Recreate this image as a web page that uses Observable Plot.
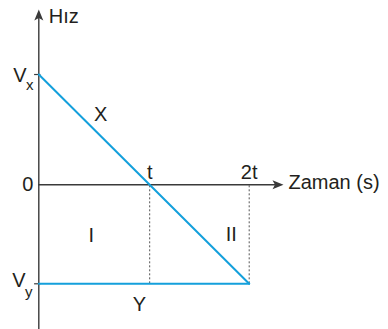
<!DOCTYPE html>
<html>
<head>
<meta charset="utf-8">
<script src="https://cdn.jsdelivr.net/npm/d3@7"></script>
<script src="https://cdn.jsdelivr.net/npm/@observablehq/plot@0.6"></script>
<style>
  html, body { margin: 0; padding: 0; background: #fff; }
  svg { display: block; }
</style>
</head>
<body>
<div id="chart"></div>
<script>
// ---- data ----
const timeTicks = [1.054, 2];          // t, 2t positions (as drawn)
const timeLabels = ["t", "2t"];
const Vx = 1.114;                      // speed at start of X
const Vy = -1;                         // constant speed of Y
const lineX = [{time: 0, speed: Vx}, {time: 2, speed: Vy}];
const lineY = [{time: 0, speed: Vy}, {time: 2, speed: Vy}];
const speedTicks = [Vx, Vy];
const axisYTop = 1.771, axisYBottom = -1.47, axisXEnd = 2.326;

const font = "'Liberation Sans', Arial, Helvetica, sans-serif";
const ink = "#231f20";
const axisColor = "#3a3a3a";
const blue = "#14a0dc";

// arrowhead symbol: tip at origin pointing up
const arrowHead = {
  draw(ctx) {
    ctx.moveTo(0, 0);
    ctx.lineTo(4.5, 11);
    ctx.lineTo(0, 8.5);
    ctx.lineTo(-4.5, 11);
    ctx.closePath();
  }
};

const txt = {fill: ink, fontFamily: font, fontSize: 20};

const plot = Plot.plot({
  width: 388,
  height: 329,
  margin: 0,
  x: {domain: [0, 2], range: [38.3, 248.7], axis: null},
  y: {domain: [-1, 0], range: [283.3, 184.3], axis: null},
  style: {fontFamily: font, background: "#fff", overflow: "visible"},
  marks: [
    // dotted guides
    Plot.ruleX(timeTicks, {y1: Vy, y2: 0, stroke: "#555", strokeWidth: 1, strokeDasharray: "2,2"}),
    // axes
    Plot.ruleX([0], {y1: axisYBottom, y2: axisYTop - 0.05, stroke: axisColor, strokeWidth: 1.4}),
    Plot.ruleY([0], {x1: 0, x2: axisXEnd - 0.05, stroke: axisColor, strokeWidth: 1.4}),
    Plot.dot([0], {x: 0, y: axisYTop, symbol: arrowHead, fill: axisColor, stroke: null}),
    Plot.dot([0], {x: axisXEnd, y: 0, symbol: arrowHead, fill: axisColor, stroke: null, rotate: 90}),
    // small ticks at Vx, Vy
    Plot.ruleY(speedTicks, {x1: -0.04, x2: 0.02, stroke: axisColor, strokeWidth: 1.2}),
    // motion lines
    Plot.line(lineX, {x: "time", y: "speed", stroke: blue, strokeWidth: 2}),
    Plot.line(lineY, {x: "time", y: "speed", stroke: blue, strokeWidth: 2}),
    // axis texts
    Plot.text(["Hız"], {x: 0, y: axisYTop, dx: 10, dy: 7, textAnchor: "start", ...txt}),
    Plot.text(["Zaman (s)"], {x: axisXEnd, y: 0, dx: 5, dy: -2, textAnchor: "start", ...txt}),
    Plot.text(timeLabels, {x: (d, i) => timeTicks[i], y: 0, dy: -12, text: d => d, ...txt}),
    Plot.text(["0"], {x: 0, y: 0, dx: -11, textAnchor: "middle", ...txt}),
    Plot.text(["V"], {x: 0, y: Vx, dx: -19, dy: 1, textAnchor: "middle", ...txt}),
    Plot.text(["x"], {x: 0, y: Vx, dx: -9, dy: 11, textAnchor: "middle", ...txt, fontSize: 15}),
    Plot.text(["V"], {x: 0, y: Vy, dx: -20, dy: -3, textAnchor: "middle", ...txt}),
    Plot.text(["y"], {x: 0, y: Vy, dx: -10, dy: 8, textAnchor: "middle", ...txt, fontSize: 15}),
    // annotations
    Plot.text(["X"], {x: 0.587, y: 0.71, ...txt}),
    Plot.text(["Y"], {x: 0.957, y: -1.209, ...txt}),
    Plot.text(["I"], {x: 0.5, y: -0.51, ...txt}),
    Plot.text(["II"], {x: 1.83, y: -0.5, ...txt})
  ]
});
document.getElementById("chart").appendChild(plot);
</script>
</body>
</html>
